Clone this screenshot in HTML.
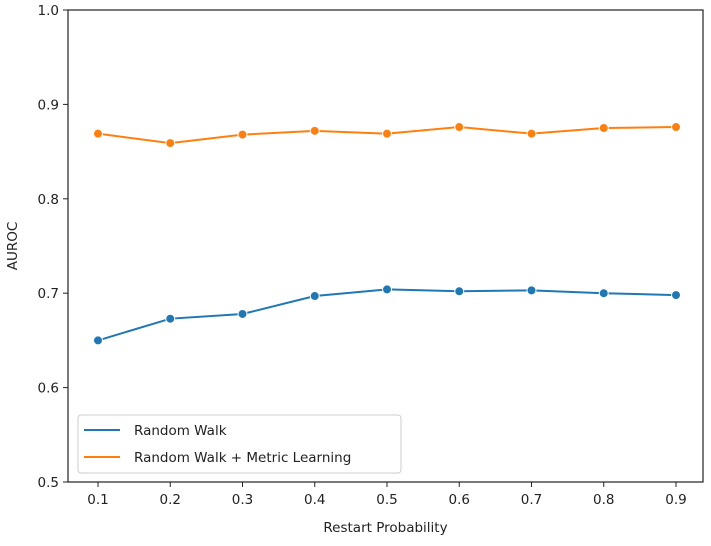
<!DOCTYPE html>
<html><head><meta charset="utf-8"><style>
body{margin:0;background:#fff}
text{font-family:"DejaVu Sans","Liberation Sans",sans-serif;fill:#222}
</style></head><body>
<svg id="chart" width="711" height="541">
</svg>
<script>
const categories=[0.1,0.2,0.3,0.4,0.5,0.6,0.7,0.8,0.9];
const randomWalk=[0.650,0.673,0.678,0.697,0.704,0.702,0.703,0.700,0.698];
const metricLearning=[0.869,0.859,0.868,0.872,0.869,0.876,0.869,0.875,0.876];
const yTicks=[0.5,0.6,0.7,0.8,0.9,1.0];
const xTickLabels=["0.1","0.2","0.3","0.4","0.5","0.6","0.7","0.8","0.9"];
const L=68,R=703,T=10,B=482;
const xs=v=>98+(v-0.1)/0.8*(676-98);
const ys=v=>B-(v-0.5)/0.5*(B-T);
const svg=document.getElementById('chart');const NS='http://www.w3.org/2000/svg';
function mk(t,a,p){const e=document.createElementNS(NS,t);for(const k in a)e.setAttribute(k,a[k]);(p||svg).appendChild(e);return e;}
yTicks.forEach(v=>{
 const l=mk('line',{x1:L-5,x2:L,y1:ys(v),y2:ys(v),stroke:'#222'});
 
 
 const t=mk('text',{x:L-9,y:ys(v)+5,'text-anchor':'end','font-size':13.5});t.textContent=v.toFixed(1);
 
 
});
categories.forEach((c,i)=>{
 const l=mk('line',{x1:xs(c),x2:xs(c),y1:B,y2:B+5,stroke:'#222'});
 
 
 const t=mk('text',{x:xs(c),y:B+22,'text-anchor':'middle','font-size':13.5});t.textContent=xTickLabels[i];
 
 
});
function series(vals,color,name){
 const p=mk('polyline',{points:vals.map((v,i)=>xs(categories[i])+','+ys(v)).join(' '),fill:'none',stroke:color,'stroke-width':2});
 
 
 vals.forEach((v,i)=>{const c=mk('circle',{cx:xs(categories[i]),cy:ys(v),r:4.5,fill:color,stroke:'#fff','stroke-width':1});
 
 });
}
series(randomWalk,'#1f77b4','random-walk');
series(metricLearning,'#ff7f0e','metric-learning');
const fr=mk('rect',{x:L,y:T,width:R-L,height:B-T,fill:'none',stroke:'#222','stroke-width':1.2});


const lg=mk('g',{});


mk('rect',{x:78,y:415,width:323,height:58,rx:3,fill:'#fff',stroke:'#ccc'},lg);
mk('line',{x1:84,x2:120,y1:430,y2:430,stroke:'#1f77b4','stroke-width':2},lg);
mk('line',{x1:84,x2:120,y1:457,y2:457,stroke:'#ff7f0e','stroke-width':2},lg);
const t1=mk('text',{x:134,y:435,'font-size':13.5},lg);t1.textContent='Random Walk';


const t2=mk('text',{x:134,y:462,'font-size':13.5},lg);t2.textContent='Random Walk + Metric Learning';


const xt=mk('text',{x:(L+R)/2,y:532,'text-anchor':'middle','font-size':13.5});xt.textContent='Restart Probability';


const yt=mk('text',{x:0,y:0,'text-anchor':'middle','font-size':13.5,transform:'translate(17,'+(T+B)/2+') rotate(-90)'});yt.textContent='AUROC';


</script>
</body></html>
